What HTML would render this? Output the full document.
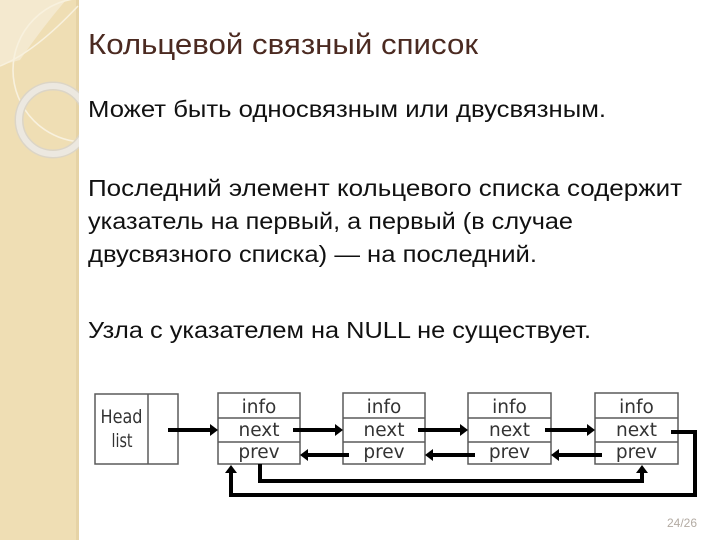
<!DOCTYPE html>
<html>
<head>
<meta charset="utf-8">
<style>
  html, body { margin:0; padding:0; width:720px; height:540px; overflow:hidden; background:#ffffff; }
  svg { display:block; }
</style>
</head>
<body>
<svg width="720" height="540" viewBox="0 0 720 540" xmlns="http://www.w3.org/2000/svg">
  <defs>
    <clipPath id="band"><rect x="0" y="0" width="79" height="540"/></clipPath>
  </defs>
  <rect x="0" y="0" width="720" height="540" fill="#ffffff"/>

  <!-- left decorative band -->
  <rect x="0" y="0" width="79" height="540" fill="#efdeb4"/>
  <rect x="76" y="0" width="3" height="540" fill="#e6d3a6"/>
  <g clip-path="url(#band)">
    <path d="M0,0 H66 Q42,28 20,60 Q9,63 0,65 Z" fill="#f4e9cf"/>
    <path d="M0,66 Q35,52 78,6" fill="none" stroke="#f8f1de" stroke-width="1.5"/>
    <circle cx="85" cy="70" r="72" fill="none" stroke="#f8f1de" stroke-width="1.6"/>
    <circle cx="53" cy="120" r="34" fill="none" stroke="#dcd5c6" stroke-width="9"/>
    <circle cx="53" cy="120" r="34" fill="none" stroke="#ece8e0" stroke-width="6"/>
  </g>

  <!-- title -->
  <text x="88" y="54" font-family="Liberation Sans, sans-serif" font-size="29" fill="#4b2a21" textLength="390" lengthAdjust="spacingAndGlyphs">Кольцевой связный список</text>

  <!-- body text -->
  <g font-family="Liberation Sans, sans-serif" font-size="23" fill="#111111">
    <text x="88" y="117" textLength="518" lengthAdjust="spacingAndGlyphs">Может быть односвязным или двусвязным.</text>
    <text x="88" y="196" textLength="594" lengthAdjust="spacingAndGlyphs">Последний элемент кольцевого списка содержит</text>
    <text x="88" y="229" textLength="485" lengthAdjust="spacingAndGlyphs">указатель на первый, а первый (в случае</text>
    <text x="88" y="262" textLength="449" lengthAdjust="spacingAndGlyphs">двусвязного списка) — на последний.</text>
    <text x="88" y="338" textLength="503" lengthAdjust="spacingAndGlyphs">Узла с указателем на NULL не существует.</text>
  </g>

  <!-- head box -->
  <rect x="95" y="394" width="83" height="70" fill="#ffffff" stroke="#5a5a5a" stroke-width="1.5"/>
  <line x1="148" y1="394" x2="148" y2="464" stroke="#5a5a5a" stroke-width="1.5"/>
  <g font-family="DejaVu Sans, Verdana, sans-serif" font-size="19" fill="#333333" text-anchor="middle">
    <text x="121.5" y="423" textLength="42" lengthAdjust="spacingAndGlyphs">Head</text>
    <text x="122" y="447" textLength="21" lengthAdjust="spacingAndGlyphs">list</text>
  </g>

  <!-- nodes -->
  <g stroke="#5a5a5a" stroke-width="1.5" fill="#ffffff">
    <rect x="218" y="393" width="82" height="71"/>
    <line x1="218" y1="418" x2="300" y2="418"/>
    <line x1="218" y1="442" x2="300" y2="442"/>
    <rect x="343" y="393" width="82" height="71"/>
    <line x1="343" y1="418" x2="425" y2="418"/>
    <line x1="343" y1="442" x2="425" y2="442"/>
    <rect x="468" y="393" width="83" height="71"/>
    <line x1="468" y1="418" x2="551" y2="418"/>
    <line x1="468" y1="442" x2="551" y2="442"/>
    <rect x="595" y="393" width="83" height="71"/>
    <line x1="595" y1="418" x2="678" y2="418"/>
    <line x1="595" y1="442" x2="678" y2="442"/>
  </g>
  <g font-family="DejaVu Sans, Verdana, sans-serif" font-size="18.5" fill="#333333" text-anchor="middle">
    <text x="259" y="413">info</text>
    <text x="259" y="436">next</text>
    <text x="259" y="458">prev</text>
    <text x="384" y="413">info</text>
    <text x="384" y="436">next</text>
    <text x="384" y="458">prev</text>
    <text x="509.5" y="413">info</text>
    <text x="509.5" y="436">next</text>
    <text x="509.5" y="458">prev</text>
    <text x="636.5" y="413">info</text>
    <text x="636.5" y="436">next</text>
    <text x="636.5" y="458">prev</text>
  </g>

  <!-- connectors -->
  <g stroke="#000000" stroke-width="4" fill="none">
    <line x1="168" y1="430" x2="212" y2="430"/>
    <line x1="293" y1="430" x2="337" y2="430"/>
    <line x1="418" y1="430" x2="462" y2="430"/>
    <line x1="545" y1="430" x2="589" y2="430"/>
    <line x1="349" y1="455" x2="306" y2="455"/>
    <line x1="475" y1="455" x2="431" y2="455"/>
    <line x1="602" y1="455" x2="557" y2="455"/>
    <path d="M260,464 V481 H642 V472" stroke-linejoin="miter"/>
    <path d="M671,432 H695 V495 H231 V472" stroke-linejoin="miter"/>
  </g>
  <g fill="#000000">
    <polygon points="210,424 218,430 210,436"/>
    <polygon points="335,424 343,430 335,436"/>
    <polygon points="460,424 468,430 460,436"/>
    <polygon points="587,424 595,430 587,436"/>
    <polygon points="308,449 300,455 308,461"/>
    <polygon points="433,449 425,455 433,461"/>
    <polygon points="559,449 551,455 559,461"/>
    <polygon points="636,473 642,465 648,473"/>
    <polygon points="225,473 231,465 237,473"/>
  </g>

  <!-- page number -->
  <text x="667" y="527" font-family="Liberation Sans, sans-serif" font-size="12" fill="#b3aba3">24/26</text>
</svg>
</body>
</html>
